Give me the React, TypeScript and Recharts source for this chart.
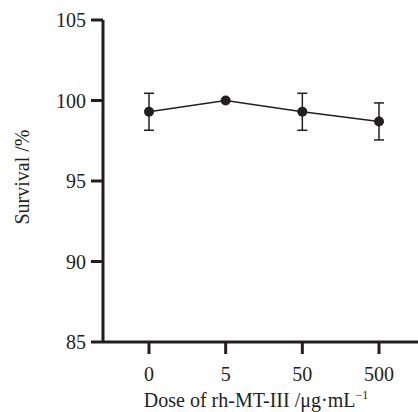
import React from 'react';
import { ComposedChart, Line, XAxis, YAxis, ErrorBar } from 'recharts';

const categories = ['0', '5', '50', '500'];
const survival = [99.3, 100.0, 99.3, 98.7];
const errors = [1.15, 0, 1.15, 1.15];
const yTicks = [85, 90, 95, 100, 105];

const data = categories.map((c, i) => ({ dose: c, survival: survival[i], err: errors[i] }));

const FONT = '"Liberation Serif", "Times New Roman", serif';
const INK = '#231f20';

const XTitle = (props: any) => {
  const vb = props.viewBox || {};
  const cx = vb.x + vb.width / 2 - 4;
  return (
    <text x={256} y={407} textAnchor="middle" fontFamily={FONT} fontSize={20} fill={INK}>
      <tspan>Dose of rh-MT-III /μg·mL</tspan>
      <tspan fontSize={12} dy={-8}>−1</tspan>
    </text>
  );
};

const YTitle = () => (
  <text
    x={22}
    y={177}
    transform="rotate(-90 22 177)"
    textAnchor="middle"
    dominantBaseline="central"
    fontFamily={FONT}
    fontSize={20}
    fill={INK}
  >
    Survival /%
  </text>
);

export default function App() {
  return (
    <div style={{ position: 'absolute', left: 0, top: 0, width: 418, height: 412, background: '#fff' }}>
      <ComposedChart width={418} height={412} data={data} margin={{ top: 20, right: 0, bottom: 0, left: 0 }}>
        <XAxis
          dataKey="dose"
          height={70}
          padding={{ left: 46, right: 39 }}
          axisLine={{ stroke: INK, strokeWidth: 3 }}
          tickLine={{ stroke: INK, strokeWidth: 3 }}
          tickSize={12}
          tickMargin={13}
          tick={{ fill: INK, fontFamily: FONT, fontSize: 20 }}
          label={<XTitle />}
        />
        <YAxis
          width={103}
          domain={[85, 105]}
          ticks={yTicks}
          axisLine={{ stroke: INK, strokeWidth: 3 }}
          tickLine={{ stroke: INK, strokeWidth: 3 }}
          tickSize={12}
          tickMargin={5}
          tick={{ fill: INK, fontFamily: FONT, fontSize: 20 }}
          label={<YTitle />}
        />
        <Line
          type="linear"
          dataKey="survival"
          stroke={INK}
          strokeWidth={1.5}
          dot={{ r: 5, fill: INK, stroke: INK, strokeWidth: 0 }}
          isAnimationActive={false}
        >
          <ErrorBar dataKey="err" width={5} stroke={INK} strokeWidth={1.5} direction="y" />
        </Line>
      </ComposedChart>
    </div>
  );
}
